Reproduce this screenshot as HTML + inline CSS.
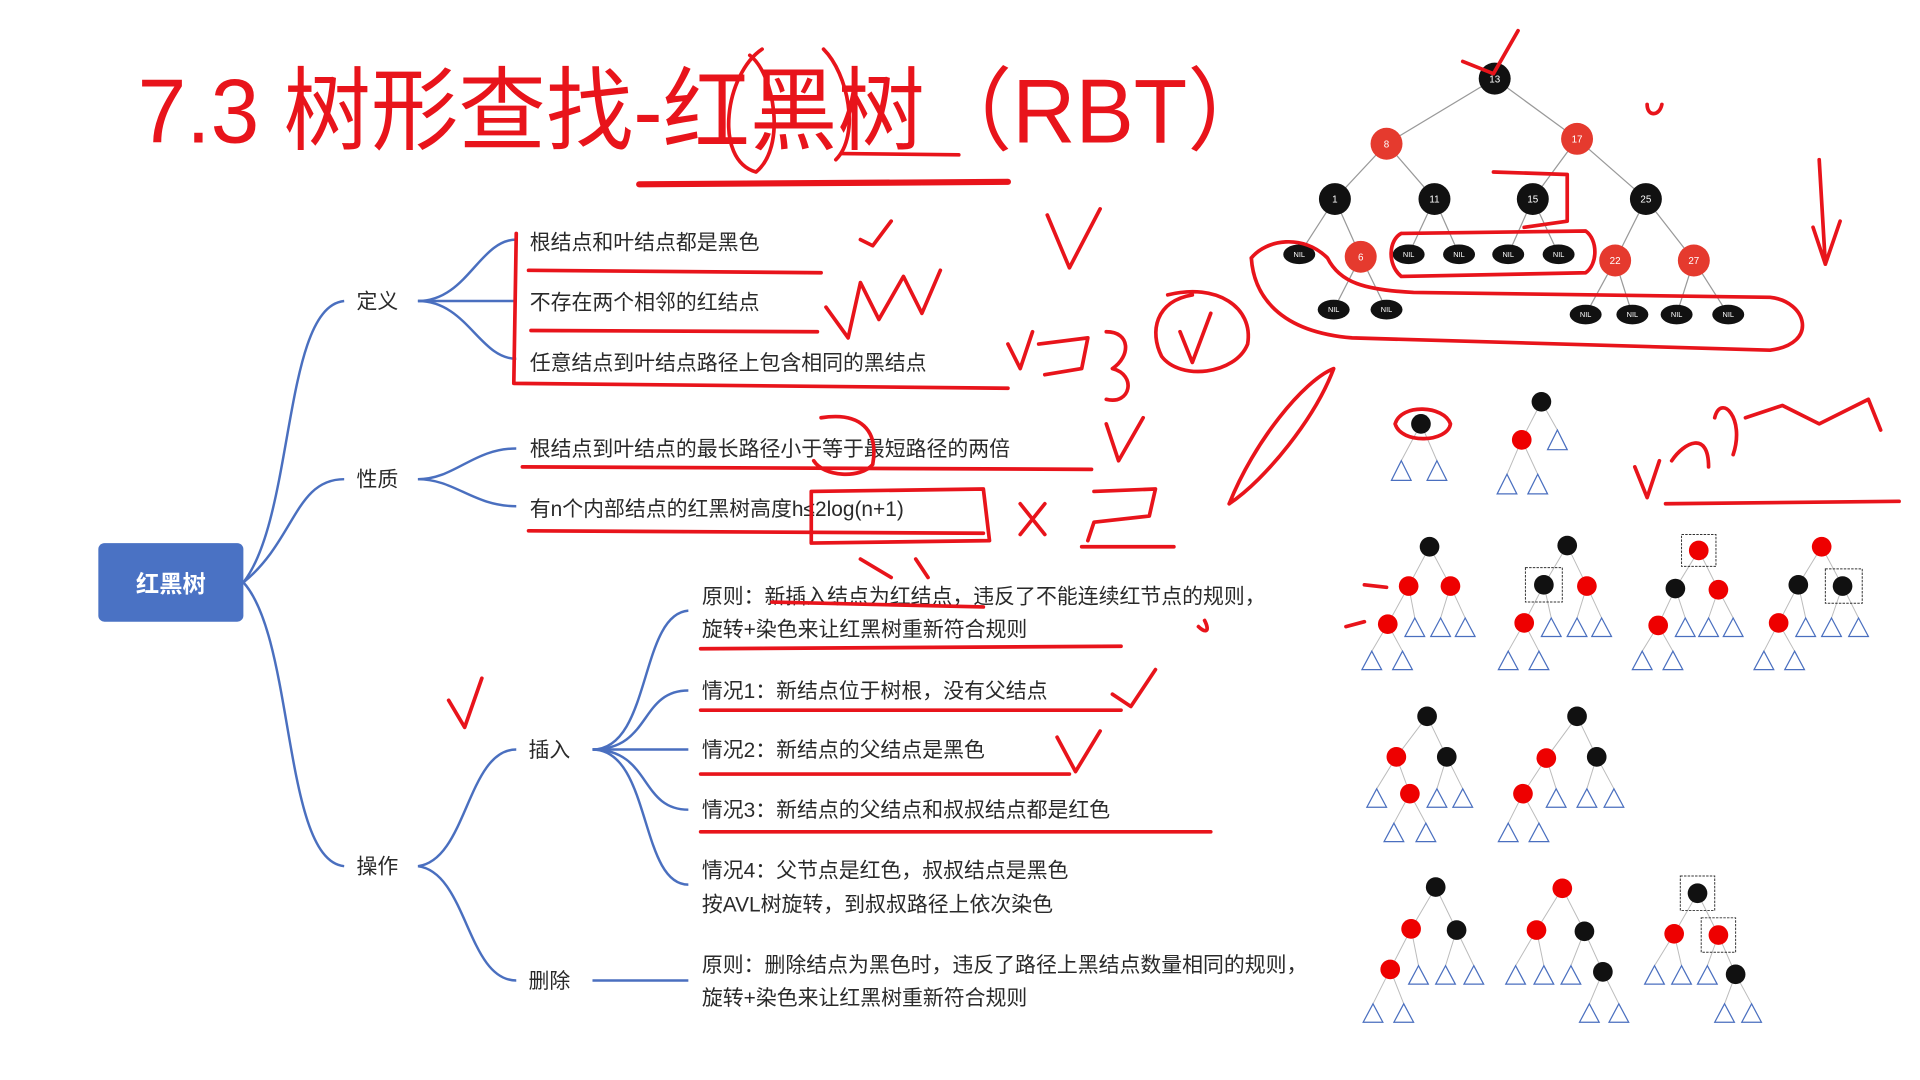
<!DOCTYPE html>
<html><head><meta charset="utf-8"><style>
html,body{margin:0;padding:0;background:#fff;width:1920px;height:1080px;overflow:hidden}
svg{display:block}
text{font-family:"Liberation Sans","Noto Sans CJK SC",sans-serif}
</style></head><body>
<svg width="1920" height="1080" viewBox="0 0 1562 879" preserveAspectRatio="none" xmlns="http://www.w3.org/2000/svg">
<rect width="1562" height="879" fill="#fff"/>
<text x="112" y="116" font-size="74" fill="#e8141b" textLength="925" lengthAdjust="spacingAndGlyphs">7.3 树形查找-红黑树（RBT）</text>

<!-- mind map -->
<g fill="none" stroke="#4a6fbf" stroke-width="2">
<path d="M198 474 C240 420,230 250,280 245"/>
<path d="M198 474 C240 440,240 390,280 390"/>
<path d="M198 474 C240 520,230 700,280 705"/>
<path d="M340 245 C380 245,390 195,420 195"/>
<path d="M340 245 L420 245"/>
<path d="M340 245 C380 245,390 292,420 292"/>
<path d="M340 390 C370 390,385 365,420 365"/>
<path d="M340 390 C370 390,385 412,420 412"/>
<path d="M340 705 C380 700,380 610,420 610"/>
<path d="M340 705 C380 710,380 798,420 798"/>
<path d="M482 610 C530 610,520 500,560 497"/>
<path d="M482 610 C530 610,520 562,560 562"/>
<path d="M482 610 L560 610"/>
<path d="M482 610 C530 610,520 659,560 659"/>
<path d="M482 610 C530 610,520 720,560 720"/>
<path d="M482 798 L560 798"/>
</g>
<rect x="80" y="442" width="118" height="64" rx="5" fill="#4a72c4"/>
<text x="139" y="482" font-size="19" font-weight="bold" fill="#fff" text-anchor="middle">红黑树</text>
<g font-size="17" fill="#2a2a2a">
<text x="290" y="251">定义</text><text x="290" y="396">性质</text><text x="290" y="711">操作</text>
<text x="430" y="616">插入</text><text x="430" y="804">删除</text>
<text x="431" y="203">根结点和叶结点都是黑色</text>
<text x="431" y="252">不存在两个相邻的红结点</text>
<text x="431" y="301">任意结点到叶结点路径上包含相同的黑结点</text>
<text x="431" y="371">根结点到叶结点的最长路径小于等于最短路径的两倍</text>
<text x="431" y="420">有n个内部结点的红黑树高度h≤2log(n+1)</text>
<text x="571" y="491">原则：新插入结点为红结点，违反了不能连续红节点的规则，</text>
<text x="571" y="518">旋转+染色来让红黑树重新符合规则</text>
<text x="571" y="568">情况1：新结点位于树根，没有父结点</text>
<text x="571" y="616">情况2：新结点的父结点是黑色</text>
<text x="571" y="665">情况3：新结点的父结点和叔叔结点都是红色</text>
<text x="571" y="714">情况4：父节点是红色，叔叔结点是黑色</text>
<text x="571" y="742">按AVL树旋转，到叔叔路径上依次染色</text>
<text x="571" y="791">原则：删除结点为黑色时，违反了路径上黑结点数量相同的规则，</text>
<text x="571" y="818">旋转+染色来让红黑树重新符合规则</text>
</g>

<!-- top tree -->
<g stroke="#999" stroke-width="1">
<line x1="1216" y1="64" x2="1128" y2="117"/><line x1="1216" y1="64" x2="1283" y2="113"/>
<line x1="1128" y1="117" x2="1086" y2="162"/><line x1="1128" y1="117" x2="1167" y2="162"/>
<line x1="1283" y1="113" x2="1247" y2="162"/><line x1="1283" y1="113" x2="1339" y2="162"/>
<line x1="1086" y1="162" x2="1057" y2="207"/><line x1="1086" y1="162" x2="1107" y2="209"/>
<line x1="1167" y1="162" x2="1146" y2="207"/><line x1="1167" y1="162" x2="1187" y2="207"/>
<line x1="1247" y1="162" x2="1227" y2="207"/><line x1="1247" y1="162" x2="1268" y2="207"/>
<line x1="1339" y1="162" x2="1314" y2="212"/><line x1="1339" y1="162" x2="1378" y2="212"/>
<line x1="1107" y1="209" x2="1085" y2="252"/><line x1="1107" y1="209" x2="1128" y2="252"/>
<line x1="1314" y1="212" x2="1290" y2="256"/><line x1="1314" y1="212" x2="1328" y2="256"/>
<line x1="1378" y1="212" x2="1364" y2="256"/><line x1="1378" y1="212" x2="1406" y2="256"/>
</g>
<g font-size="8" text-anchor="middle" fill="#fff">
<circle cx="1216" cy="64" r="13" fill="#111"/><text x="1216" y="67">13</text>
<circle cx="1128" cy="117" r="13" fill="#e53a2e"/><text x="1128" y="120">8</text>
<circle cx="1283" cy="113" r="13" fill="#e53a2e"/><text x="1283" y="116">17</text>
<circle cx="1086" cy="162" r="13" fill="#111"/><text x="1086" y="165">1</text>
<circle cx="1167" cy="162" r="13" fill="#111"/><text x="1167" y="165">11</text>
<circle cx="1247" cy="162" r="13" fill="#111"/><text x="1247" y="165">15</text>
<circle cx="1339" cy="162" r="13" fill="#111"/><text x="1339" y="165">25</text>
<circle cx="1107" cy="209" r="13" fill="#e53a2e"/><text x="1107" y="212">6</text>
<circle cx="1314" cy="212" r="13" fill="#e53a2e"/><text x="1314" y="215">22</text>
<circle cx="1378" cy="212" r="13" fill="#e53a2e"/><text x="1378" y="215">27</text>
<g font-size="6">
<ellipse cx="1057" cy="207" rx="13" ry="8" fill="#111"/><text x="1057" y="209">NIL</text>
<ellipse cx="1146" cy="207" rx="13" ry="8" fill="#111"/><text x="1146" y="209">NIL</text>
<ellipse cx="1187" cy="207" rx="13" ry="8" fill="#111"/><text x="1187" y="209">NIL</text>
<ellipse cx="1227" cy="207" rx="13" ry="8" fill="#111"/><text x="1227" y="209">NIL</text>
<ellipse cx="1268" cy="207" rx="13" ry="8" fill="#111"/><text x="1268" y="209">NIL</text>
<ellipse cx="1085" cy="252" rx="13" ry="8" fill="#111"/><text x="1085" y="254">NIL</text>
<ellipse cx="1128" cy="252" rx="13" ry="8" fill="#111"/><text x="1128" y="254">NIL</text>
<ellipse cx="1290" cy="256" rx="13" ry="8" fill="#111"/><text x="1290" y="258">NIL</text>
<ellipse cx="1328" cy="256" rx="13" ry="8" fill="#111"/><text x="1328" y="258">NIL</text>
<ellipse cx="1364" cy="256" rx="13" ry="8" fill="#111"/><text x="1364" y="258">NIL</text>
<ellipse cx="1406" cy="256" rx="13" ry="8" fill="#111"/><text x="1406" y="258">NIL</text>
</g></g>

<!-- small tree edges -->
<g stroke="#bbb" stroke-width="0.8">
<path d="M1156 345 L1140 375 M1156 345 L1169 375 M1254 327 L1238 358 M1254 327 L1267 350 M1238 358 L1226 386 M1238 358 L1251 386"/>
<path d="M1163 445 L1146 477 M1163 445 L1180 477 M1146 477 L1129 508 M1146 477 L1151 503 M1180 477 L1172 503 M1180 477 L1192 503 M1129 508 L1116 530 M1129 508 L1141 530"/>
<path d="M1275 444 L1256 476 M1275 444 L1291 477 M1256 476 L1240 507 M1256 476 L1262 503 M1291 477 L1283 503 M1291 477 L1303 503 M1240 507 L1227 530 M1240 507 L1252 530"/>
<path d="M1382 448 L1363 479 M1382 448 L1398 480 M1363 479 L1349 509 M1363 479 L1371 503 M1398 480 L1390 503 M1398 480 L1410 503 M1349 509 L1336 530 M1349 509 L1361 530"/>
<path d="M1482 445 L1463 476 M1482 445 L1499 477 M1463 476 L1447 507 M1463 476 L1469 503 M1499 477 L1490 503 M1499 477 L1512 503 M1447 507 L1435 530 M1447 507 L1460 530"/>
<path d="M1161 583 L1136 616 M1161 583 L1177 616 M1136 616 L1120 642 M1136 616 L1147 646 M1177 616 L1169 642 M1177 616 L1190 642 M1147 646 L1134 670 M1147 646 L1160 670"/>
<path d="M1283 583 L1258 617 M1283 583 L1299 616 M1258 617 L1239 646 M1258 617 L1266 642 M1299 616 L1291 642 M1299 616 L1313 642 M1239 646 L1227 670 M1239 646 L1252 670"/>
<path d="M1168 722 L1148 756 M1168 722 L1185 757 M1148 756 L1131 789 M1148 756 L1154 786 M1185 757 L1176 786 M1185 757 L1199 786 M1131 789 L1117 817 M1131 789 L1142 817"/>
<path d="M1271 723 L1250 757 M1271 723 L1289 758 M1250 757 L1233 786 M1250 757 L1256 786 M1289 758 L1278 786 M1289 758 L1304 791 M1304 791 L1293 817 M1304 791 L1317 817"/>
<path d="M1381 727 L1362 760 M1381 727 L1398 761 M1362 760 L1346 786 M1362 760 L1368 786 M1398 761 L1389 786 M1398 761 L1412 793 M1412 793 L1403 817 M1412 793 L1425 817"/>
</g>
<!-- small trees -->
<g stroke="#4a6fbf" stroke-width="1" fill="#fff">
<path d="M1140 375 l-8 16 h16z M1169 375 l-8 16 h16z M1226 386 l-8 16 h16z M1251 386 l-8 16 h16z M1267 350 l-8 16 h16z"/>
<path d="M1116 530 l-8 15 h16z M1141 530 l-8 15 h16z M1151 503 l-8 15 h16z M1172 503 l-8 15 h16z M1192 503 l-8 15 h16z"/>
<path d="M1227 530 l-8 15 h16z M1252 530 l-8 15 h16z M1262 503 l-8 15 h16z M1283 503 l-8 15 h16z M1303 503 l-8 15 h16z"/>
<path d="M1336 530 l-8 15 h16z M1361 530 l-8 15 h16z M1371 503 l-8 15 h16z M1390 503 l-8 15 h16z M1410 503 l-8 15 h16z"/>
<path d="M1435 530 l-8 15 h16z M1460 530 l-8 15 h16z M1469 503 l-8 15 h16z M1490 503 l-8 15 h16z M1512 503 l-8 15 h16z"/>
<path d="M1120 642 l-8 15 h16z M1169 642 l-8 15 h16z M1190 642 l-8 15 h16z M1134 670 l-8 15 h16z M1160 670 l-8 15 h16z"/>
<path d="M1227 670 l-8 15 h16z M1252 670 l-8 15 h16z M1266 642 l-8 15 h16z M1291 642 l-8 15 h16z M1313 642 l-8 15 h16z"/>
<path d="M1117 817 l-8 15 h16z M1142 817 l-8 15 h16z M1154 786 l-8 15 h16z M1176 786 l-8 15 h16z M1199 786 l-8 15 h16z"/>
<path d="M1233 786 l-8 15 h16z M1256 786 l-8 15 h16z M1278 786 l-8 15 h16z M1293 817 l-8 15 h16z M1317 817 l-8 15 h16z"/>
<path d="M1346 786 l-8 15 h16z M1368 786 l-8 15 h16z M1389 786 l-8 15 h16z M1403 817 l-8 15 h16z M1425 817 l-8 15 h16z"/>
</g>
<g>
<circle cx="1156" cy="345" r="8" fill="#111"/><circle cx="1254" cy="327" r="8" fill="#111"/><circle cx="1238" cy="358" r="8" fill="#e00"/>
<circle cx="1163" cy="445" r="8" fill="#111"/><circle cx="1146" cy="477" r="8" fill="#e00"/><circle cx="1180" cy="477" r="8" fill="#e00"/><circle cx="1129" cy="508" r="8" fill="#e00"/>
<circle cx="1275" cy="444" r="8" fill="#111"/><circle cx="1256" cy="476" r="8" fill="#111"/><circle cx="1291" cy="477" r="8" fill="#e00"/><circle cx="1240" cy="507" r="8" fill="#e00"/>
<circle cx="1382" cy="448" r="8" fill="#e00"/><circle cx="1363" cy="479" r="8" fill="#111"/><circle cx="1398" cy="480" r="8" fill="#e00"/><circle cx="1349" cy="509" r="8" fill="#e00"/>
<circle cx="1482" cy="445" r="8" fill="#e00"/><circle cx="1463" cy="476" r="8" fill="#111"/><circle cx="1499" cy="477" r="8" fill="#111"/><circle cx="1447" cy="507" r="8" fill="#e00"/>
<circle cx="1161" cy="583" r="8" fill="#111"/><circle cx="1136" cy="616" r="8" fill="#e00"/><circle cx="1177" cy="616" r="8" fill="#111"/><circle cx="1147" cy="646" r="8" fill="#e00"/>
<circle cx="1283" cy="583" r="8" fill="#111"/><circle cx="1258" cy="617" r="8" fill="#e00"/><circle cx="1299" cy="616" r="8" fill="#111"/><circle cx="1239" cy="646" r="8" fill="#e00"/>
<circle cx="1168" cy="722" r="8" fill="#111"/><circle cx="1148" cy="756" r="8" fill="#e00"/><circle cx="1185" cy="757" r="8" fill="#111"/><circle cx="1131" cy="789" r="8" fill="#e00"/>
<circle cx="1271" cy="723" r="8" fill="#e00"/><circle cx="1250" cy="757" r="8" fill="#e00"/><circle cx="1289" cy="758" r="8" fill="#111"/><circle cx="1304" cy="791" r="8" fill="#111"/>
<circle cx="1381" cy="727" r="8" fill="#111"/><circle cx="1362" cy="760" r="8" fill="#e00"/><circle cx="1398" cy="761" r="8" fill="#e00"/><circle cx="1412" cy="793" r="8" fill="#111"/>
</g>
<g fill="none" stroke="#333" stroke-width="0.8" stroke-dasharray="2 1">
<rect x="1241" y="462" width="30" height="28"/><rect x="1368" y="435" width="28" height="26"/><rect x="1485" y="463" width="30" height="28"/><rect x="1367" y="713" width="28" height="28"/><rect x="1384" y="747" width="28" height="28"/>
</g>

<!-- red annotations -->
<g fill="none" stroke="#e8141b" stroke-width="3" stroke-linecap="round" stroke-linejoin="round">
<path d="M520 150 L820 148" stroke-width="5"/>
<path d="M685 125 L780 126"/>
<path d="M620 40 C590 60,580 130,615 140 C640 120,630 60,610 45 M670 40 C690 60,700 110,680 130"/>
<path d="M420 190 L418 312 L820 316"/>
<path d="M430 220 L668 222 M432 269 L665 270"/>
<path d="M425 380 L888 382 M430 432 L800 434 M628 490 L800 494 M570 528 L912 526 M570 578 L912 578 M570 630 L870 630 M570 677 L985 677"/>
<path d="M672 250 L690 275 L700 230 L715 260 L735 225 L750 255 L765 220"/>
<path d="M852 175 L870 218 L895 170 M700 195 L710 200 L725 180"/>
<path d="M1018 210 C1020 240,1040 270,1100 275 L1440 285 C1480 280,1470 245,1440 242 L1150 238 C1110 236,1090 230,1080 210 C1060 190,1030 195,1018 210"/>
<path d="M1140 190 L1290 188 C1300 195,1300 215,1290 222 L1140 225 C1128 215,1130 195,1140 190"/>
<path d="M1215 140 L1275 142 L1275 180 L1240 185"/>
<path d="M1480 130 L1485 215 M1475 185 L1485 215 L1497 180"/>
<path d="M1190 50 L1215 60 L1235 25 M1340 85 C1340 95,1350 95,1352 85"/>
<path d="M1000 410 C1020 360,1060 310,1085 300 C1070 340,1030 390,1000 410"/>
<path d="M950 240 C990 230,1020 250,1015 280 C1005 305,960 310,945 290 C935 270,940 245,970 240 M960 270 L970 295 L985 255"/>
<path d="M820 280 L830 300 L840 270 M845 280 L885 275 L880 300 L850 305 M900 270 C920 270,920 290,905 300 C925 305,920 330,900 325"/>
<path d="M900 345 L910 375 L930 340 M830 410 L850 435 M850 410 L830 435 M890 400 L940 398 L935 420 L890 425 L885 440 M880 445 L955 445"/>
<path d="M660 400 L800 398 L805 440 L660 442 Z M668 340 C700 335,715 350,710 378 C700 390,670 388,662 375"/>
<path d="M700 455 L725 470 M745 455 L755 470"/>
<path d="M1330 380 L1340 405 L1350 375 M1360 375 C1370 360,1390 350,1390 380 M1395 340 C1400 320,1420 340,1410 370 M1420 340 L1450 330 L1480 345 L1520 325 L1530 350 M1355 410 L1545 408"/>
<path d="M1135 345 C1140 328,1175 330,1180 345 C1178 360,1140 362,1135 345"/>
<path d="M905 565 L920 575 L940 545 M860 600 L875 628 L895 595 M365 570 L378 592 L392 552"/>
<path d="M1110 476 L1128 478 M1095 510 L1110 506"/>
<path d="M975 510 C980 515,985 515,980 505"/>
</g>
</svg>
</body></html>
